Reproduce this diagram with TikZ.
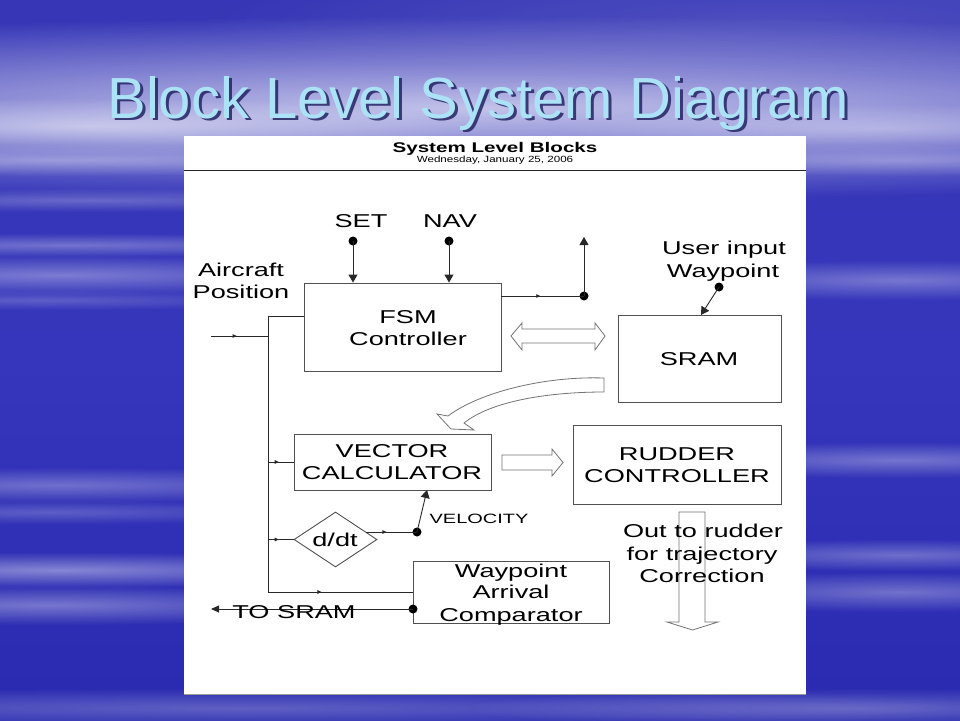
\documentclass[tikz,border=0pt]{standalone}
\usepackage{fontspec}
\setmainfont{Liberation Sans}
\usetikzlibrary{arrows.meta,shapes.geometric,decorations.markings,fadings,calc}

\definecolor{bgtop}{RGB}{54,54,182}
\definecolor{bgmid}{RGB}{54,54,188}
\definecolor{bgbot}{RGB}{42,42,176}
\definecolor{titlecol}{RGB}{172,226,246}
\definecolor{titleshadow}{RGB}{36,36,100}
\definecolor{linecol}{RGB}{40,40,40}
\definecolor{boxcol}{RGB}{80,80,80}

\tikzfading[name=softglow, inner color=transparent!0, outer color=transparent!100]

\newcommand{\bgglow}[5]{\fill[white, opacity=#5, path fading=softglow] ({#1-2*#3},{#2-2*#4}) rectangle ({#1+2*#3},{#2+2*#4});}

\tikzset{
  box/.style={draw=boxcol, line width=0.9pt, rectangle, inner sep=0pt, fill=white},
  lbl/.style={font=\fontsize{18.6}{22}\selectfont, xscale=1.46, inner sep=0pt, anchor=base, text=black},
  smalllbl/.style={font=\fontsize{13.5}{16}\selectfont, xscale=1.48, inner sep=0pt, anchor=base, text=black},
  dotnode/.style={circle, fill=black, inner sep=0pt, minimum size=9pt},
  conn/.style={draw=linecol, line width=0.9pt},
  tip/.style={-{Triangle[length=8pt,width=9pt]}},
  marker/.style={postaction={decorate}, decoration={markings, mark=at position #1 with {\arrow{Triangle[length=4pt,width=3.5pt]}}}},
  blockarrow/.style={draw=black!55, line width=0.8pt, fill=white},
  titlefont/.style={font=\fontsize{58}{60}\selectfont, anchor=base, inner sep=0pt},
}

\begin{document}
\begin{tikzpicture}[x=1pt,y=-1pt]
\useasboundingbox (0,0) rectangle (960,720);
% background
\shade[top color=bgtop, bottom color=bgbot, middle color=bgmid] (0,0) rectangle (960,720);
\bgglow{480}{108}{650}{46}{0.7}
\bgglow{90}{126}{200}{14}{0.5}
\bgglow{880}{128}{160}{12}{0.35}
\bgglow{780}{20}{300}{30}{0.12}
\bgglow{60}{160}{220}{8}{0.35}
\bgglow{90}{200}{200}{6}{0.25}
\bgglow{70}{245}{200}{6}{0.3}
\bgglow{60}{275}{180}{10}{0.35}
\bgglow{40}{300}{140}{5}{0.2}
\bgglow{60}{485}{180}{9}{0.3}
\bgglow{50}{512}{150}{6}{0.22}
\bgglow{60}{570}{190}{9}{0.42}
\bgglow{50}{605}{170}{10}{0.35}
\bgglow{240}{708}{400}{10}{0.25}
\bgglow{900}{160}{140}{8}{0.3}
\bgglow{900}{280}{140}{10}{0.32}
\bgglow{900}{460}{140}{9}{0.32}
\bgglow{900}{555}{130}{8}{0.3}
\bgglow{900}{592}{130}{10}{0.32}
\bgglow{860}{708}{200}{10}{0.25}

% title
\node[titlefont, text=titleshadow, opacity=0.85] (titlesh) at (481,120.5) {Block Level System Diagram};
\node[titlefont, text=titlecol] (title) at (478,118) {Block Level System Diagram};

% panel
\fill[white] (184,136) rectangle (806,694);
\draw[black!40, line width=0.6pt] (184,694) -- (806,694);
\node[font=\bfseries\fontsize{14}{16}\selectfont, xscale=1.47, anchor=base, inner sep=0pt] (hd) at (495,152) {System Level Blocks};
\node[font=\fontsize{9}{10}\selectfont, xscale=1.29, anchor=base, inner sep=0pt] (hdate) at (495,162.5) {Wednesday, January 25, 2006};
\draw[line width=1.4pt, black!85] (184,170.5) -- (806,170.5);

% block arrows
\draw[blockarrow] (511,336) -- (522,323) -- (522,329) -- (595,329) -- (595,323) -- (605,336) -- (595,350) -- (595,343) -- (522,343) -- (522,350) -- cycle;
\draw[blockarrow] (604,378) .. controls (545,376) and (480,392) .. (448,416) -- (437,414) -- (451,429) -- (474,430) -- (464,423) .. controls (490,402) and (545,392) .. (604,392) -- cycle;
\draw[blockarrow] (502,455) -- (552,455) -- (552,449) -- (563,462.5) -- (552,476) -- (552,470) -- (502,470) -- cycle;
\draw[blockarrow] (679,512) -- (705,512) -- (705,622) -- (718,622) -- (692.5,630) -- (667,622) -- (679,622) -- cycle;

% boxes
\node[box, minimum width=197pt, minimum height=88pt] (fsm) at (402.5,327) {};
\node[box, minimum width=163pt, minimum height=87pt] (sram) at (699.5,358.5) {};
\node[box, minimum width=197pt, minimum height=56pt] (vec) at (392.5,462) {};
\node[box, minimum width=208pt, minimum height=79pt] (rud) at (677,464.5) {};
\node[box, minimum width=196pt, minimum height=62pt] (wac) at (511,592) {};
\node[draw=boxcol, line width=0.9pt, diamond, minimum width=83pt, minimum height=55pt, inner sep=0pt, fill=white] (ddt) at (335.5,539.5) {};

% SET / NAV inputs
\node[dotnode] (setdot) at (353,241) {};
\node[dotnode] (navdot) at (449,241) {};
\draw[conn, tip] (setdot.center) -- (setdot.center |- fsm.north);
\draw[conn, tip] (navdot.center) -- (navdot.center |- fsm.north);

% FSM output
\node[dotnode] (fdot) at (584,296) {};
\coordinate (fup) at (584,237);
\draw[conn, marker=0.47] (fsm.east |- fdot) -- (fdot.center);
\draw[conn, tip] (fdot.center) -- (fup);

% user input
\node[dotnode] (udot) at (719,287) {};
\coordinate (uin) at (701,315);
\draw[conn, tip] (udot.center) -- (uin);

% aircraft position bus
\coordinate (bt) at (268,316);
\coordinate (bb) at (268,592);
\coordinate (inp) at (211,336);
\draw[conn] (fsm.west |- bt) -- (bt) -- (bb);
\draw[conn, marker=0.37] (bb) -- (wac.west |- bb);
\draw[conn, marker=0.45] (inp) -- (inp -| bt);
\draw[conn, marker=0.42] (bt |- vec.west) -- (vec.west);
\draw[conn, marker=0.42] (bt |- ddt.west) -- (ddt.west);

% velocity
\node[dotnode] (vdot) at (417,532) {};
\coordinate (vin) at (427,490);
\draw[conn, marker=0.4] (vdot -| ddt.14) -- (vdot.center);
\draw[conn, tip] (vdot.center) -- (vin);

% to SRAM
\node[dotnode] (tdot) at (413,609) {};
\coordinate (tsr) at (211,609);
\draw[conn, -{Triangle[length=8pt,width=7pt]}] (tdot.center) -- (tsr);

% labels
\node[lbl] (tset) at (361,227) {SET};
\node[lbl] (tnav) at (450,227) {NAV};
\node[lbl] (tac1) at (241,276) {Aircraft};
\node[lbl] (tac2) at (241,298) {Position};
\node[lbl] (tfsm1) at (408,323) {FSM};
\node[lbl] (tfsm2) at (408,345) {Controller};
\node[lbl] (tui1) at (724,254) {User input};
\node[lbl] (tui2) at (723,277) {Waypoint};
\node[lbl] (tsram) at (699,365) {SRAM};
\node[lbl] (tvec1) at (392,457) {VECTOR};
\node[lbl] (tvec2) at (392,479) {CALCULATOR};
\node[lbl] (trud1) at (677,460) {RUDDER};
\node[lbl] (trud2) at (677,482) {CONTROLLER};
\node[lbl] (tddt) at (335,546) {d/dt};
\node[smalllbl] (tvel) at (479,523) {VELOCITY};
\node[lbl] (twac1) at (511,577) {Waypoint};
\node[lbl] (twac2) at (511,598) {Arrival};
\node[lbl] (twac3) at (511,621) {Comparator};
\node[lbl] (tts) at (294,618) {TO SRAM};
\node[lbl] (tout1) at (703,537) {Out to rudder};
\node[lbl] (tout2) at (702,560) {for trajectory};
\node[lbl] (tout3) at (702,582) {Correction};
\end{tikzpicture}
\end{document}
